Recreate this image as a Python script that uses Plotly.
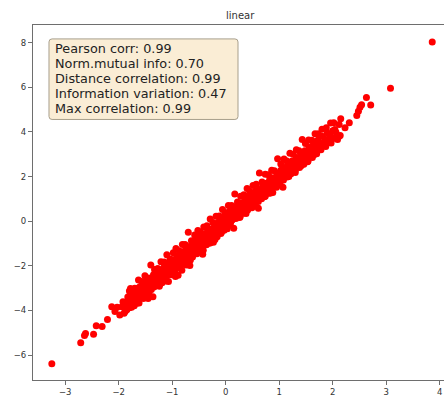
import plotly.graph_objects as go

TITLE = "linear"
STATS = [
    ("Pearson corr", 0.99),
    ("Norm.mutual info", 0.70),
    ("Distance correlation", 0.99),
    ("Information variation", 0.47),
    ("Max correlation", 0.99),
]
X_TICKS = [-3, -2, -1, 0, 1, 2, 3, 4]
Y_TICKS = [-6, -4, -2, 0, 2, 4, 6, 8]

# sparse lower tail
tail_lo_x = [-3.25, -2.71, -2.64, -2.62, -2.47, -2.42, -2.31, -2.21, -2.13, -2.07,
             -2.03, -1.98, -1.94, -1.88, -1.82, -1.76, -1.66, -1.45, -1.41]
tail_lo_y = [-6.39, -5.44, -5.12, -5.03, -5.06, -4.68, -4.72, -4.40, -3.83, -4.05,
             -3.86, -4.20, -3.83, -4.05, -3.54, -3.39, -3.68, -3.46, -2.72]

# dense central band
band_x = [
    -1.92, -1.90, -1.87, -1.85, -1.83, -1.80, -1.78, -1.77, -1.75, -1.73,
    -1.71, -1.69, -1.68, -1.66, -1.64, -1.62, -1.61, -1.59, -1.57, -1.55,
    -1.54, -1.52, -1.50, -1.49, -1.47, -1.45, -1.44, -1.42, -1.40, -1.39,
    -1.37, -1.35, -1.34, -1.32, -1.30, -1.29, -1.27, -1.25, -1.24, -1.22,
    -1.20, -1.19, -1.17, -1.15, -1.14, -1.12, -1.10, -1.09, -1.07, -1.05,
    -1.04, -1.02, -1.00, -0.99, -0.97, -0.95, -0.94, -0.92, -0.90, -0.89,
    -0.87, -0.85, -0.84, -0.82, -0.80, -0.79, -0.77, -0.75, -0.74, -0.72,
    -0.70, -0.69, -0.67, -0.66, -0.64, -0.62, -0.61, -0.59, -0.57, -0.56,
    -0.54, -0.52, -0.51, -0.49, -0.47, -0.46, -0.44, -0.42, -0.41, -0.39,
    -0.37, -0.36, -0.34, -0.32, -0.31, -0.29, -0.27, -0.26, -0.24, -0.23,
    -0.21, -0.19, -0.18, -0.16, -0.14, -0.13, -0.11, -0.09, -0.08, -0.06,
    -0.04, -0.03, -0.01, 0.01, 0.02, 0.04, 0.06, 0.07, 0.09, 0.11,
    0.12, 0.14, 0.16, 0.17, 0.19, 0.21, 0.22, 0.24, 0.26, 0.27,
    0.29, 0.31, 0.32, 0.34, 0.36, 0.37, 0.39, 0.41, 0.42, 0.44,
    0.46, 0.47, 0.49, 0.51, 0.52, 0.54, 0.56, 0.57, 0.59, 0.61,
    0.62, 0.64, 0.66, 0.67, 0.69, 0.71, 0.72, 0.74, 0.76, 0.77,
    0.79, 0.81, 0.82, 0.84, 0.86, 0.88, 0.89, 0.91, 0.93, 0.94,
    0.96, 0.98, 0.99, 1.01, 1.03, 1.05, 1.06, 1.08, 1.10, 1.12,
    1.13, 1.15, 1.17, 1.19, 1.20, 1.22, 1.24, 1.26, 1.28, 1.30,
    1.32, 1.34, 1.36, 1.38, 1.40, 1.42, 1.44, 1.46, 1.48, 1.50,
    1.52, 1.54, 1.56, 1.58, 1.60, 1.62, 1.64, 1.66, 1.68, 1.70,
    1.72, 1.74, 1.76, 1.78, 1.80, 1.83, 1.85, 1.87, 1.90, 1.92,
    1.95, 1.97, 2.00, 2.03, 2.06, 2.09,
]
band_y = [
    -3.61, -4.12, -3.70, -3.95, -3.40, -3.88, -3.52, -3.21, -3.66, -3.30,
    -3.79, -3.15, -3.48, -3.02, -3.57, -3.25, -2.95, -3.38, -3.10, -2.78,
    -3.46, -2.90, -3.15, -2.70, -3.02, -2.62, -3.30, -2.84, -2.55, -3.06,
    -2.71, -2.40, -2.95, -2.58, -2.88, -2.30, -2.66, -2.45, -2.91, -2.18,
    -2.52, -2.76, -2.33, -2.05, -2.60, -2.21, -2.44, -1.95, -2.70, -2.12,
    -1.85, -2.38, -2.02, -1.73, -2.25, -1.90, -2.48, -1.66, -2.10, -1.82,
    -1.52, -2.02, -1.70, -2.20, -1.40, -1.88, -1.58, -1.26, -1.96, -1.45,
    -1.70, -1.18, -1.98, -1.36, -1.05, -1.60, -1.28, -0.98, -1.45, -1.15,
    -0.82, -1.38, -0.96, -1.22, -0.70, -1.08, -0.85, -1.30, -0.58, -0.92,
    -0.66, -1.05, -0.44, -0.80, -0.55, -0.98, -0.36, -0.68, -0.40, -0.94,
    -0.15, -0.52, -0.28, -0.70, -0.05, -0.38, -0.12, -0.55, 0.10, -0.22,
    0.05, -0.41, 0.22, -0.10, 0.35, -0.20, 0.15, 0.45, -0.02, 0.30,
    0.05, 0.52, 0.18, 0.62, 0.12, 0.40, 0.70, 0.28, 0.55, 0.20,
    0.82, 0.45, 0.68, 0.38, 0.95, 0.58, 0.80, 0.50, 1.10, 0.72,
    0.98, 0.62, 1.22, 0.85, 1.08, 0.78, 1.35, 0.95, 1.20, 0.88,
    1.42, 1.05, 1.30, 1.00, 1.58, 1.18, 1.45, 1.12, 1.70, 1.32,
    1.55, 1.25, 1.85, 1.48, 1.72, 1.29, 1.95, 1.62, 1.88, 1.55,
    2.15, 1.78, 2.02, 1.70, 2.28, 1.92, 2.18, 1.85, 2.40, 2.05,
    2.32, 1.98, 2.55, 2.20, 2.48, 2.12, 2.70, 2.35, 2.60, 2.28,
    2.85, 2.48, 2.72, 2.40, 3.02, 2.65, 2.88, 2.55, 3.15, 2.80,
    3.05, 2.70, 3.32, 2.95, 3.20, 2.85, 3.45, 3.10, 3.35, 3.02,
    3.62, 3.28, 3.50, 3.20, 3.80, 3.42, 3.68, 3.35, 3.95, 3.58,
    3.85, 3.50, 4.05, 3.72, 3.98, 3.66,
]

# scattered points along the upper edge of the band
upper_x = [
    -1.80, -1.78, -1.70, -1.63, -1.57, -1.51, -1.46, -1.40, -1.33, -1.27,
    -1.21, -1.15, -1.10, -1.04, -0.98, -0.93, -0.87, -0.81, -0.76, -0.70,
    -0.64, -0.58, -0.52, -0.47, -0.41, -0.35, -0.29, -0.24, -0.18, -0.12,
    -0.06, -0.01, 0.05, 0.11, 0.17, 0.22, 0.28, 0.34, 0.40, 0.45,
    0.51, 0.57, 0.63, 0.68, 0.74, 0.80, 0.86, 0.91, 0.97, 1.03,
    1.09, 1.14, 1.20, 1.26, 1.32, 1.37, 1.43, 1.49, 1.55, 1.61,
    1.67, 1.73, 1.80, 1.88, 1.96, 2.02,
]
upper_y = [
    -3.13, -3.02, -3.00, -2.64, -2.70, -2.44, -2.55, -1.96, -2.16, -2.12,
    -1.82, -1.83, -1.50, -1.69, -1.41, -1.22, -1.32, -1.04, -1.04, -0.50,
    -0.88, -0.62, -0.42, -0.50, -0.26, -0.20, 0.10, -0.06, 0.22, 0.23,
    0.52, 0.38, 0.70, 0.70, 1.22, 0.86, 1.12, 1.18, 1.46, 1.34,
    1.60, 1.66, 2.16, 1.76, 2.10, 2.08, 2.28, 2.26, 2.80, 2.56,
    2.78, 2.70, 3.04, 3.00, 3.20, 3.16, 3.66, 3.48, 3.64, 3.62,
    3.92, 3.92, 4.12, 4.18, 4.40, 4.41,
]

# scattered points along the lower edge of the band
lower_x = [
    -1.85, -1.76, -1.69, -1.62, -1.55, -1.49, -1.43, -1.36, -1.30, -1.24,
    -1.18, -1.12, -1.06, -1.01, -0.95, -0.89, -0.83, -0.78, -0.72, -0.66,
    -0.60, -0.54, -0.49, -0.43, -0.37, -0.31, -0.26, -0.20, -0.14, -0.08,
    -0.03, 0.03, 0.09, 0.15, 0.20, 0.26, 0.32, 0.38, 0.43, 0.49,
    0.55, 0.61, 0.66, 0.72, 0.78, 0.84, 0.89, 0.95, 1.01, 1.07,
    1.12, 1.18, 1.24, 1.30, 1.35, 1.41, 1.47, 1.53, 1.59, 1.65,
    1.71, 1.78, 1.86, 1.94,
]
lower_y = [
    -3.97, -3.86, -3.58, -3.66, -3.34, -3.36, -3.16, -3.38, -2.82, -2.84,
    -2.64, -2.68, -2.32, -2.40, -2.20, -2.42, -1.90, -1.90, -1.70, -1.74,
    -1.42, -1.46, -1.28, -1.48, -0.94, -0.98, -0.80, -0.82, -0.52, -0.50,
    -0.28, -0.34, -0.08, -0.32, 0.20, 0.16, 0.36, 0.34, 0.64, 0.60,
    0.80, 0.58, 1.08, 1.10, 1.28, 1.26, 1.56, 1.52, 1.72, 1.52,
    2.00, 2.00, 2.20, 2.18, 2.48, 2.48, 2.66, 2.66, 2.96, 2.98,
    3.18, 3.26, 3.52, 3.62,
]

# sparse upper tail
tail_hi_x = [2.04, 2.12, 2.14, 2.12, 2.15, 2.23, 2.31, 2.45, 2.48, 2.51,
             2.54, 2.63, 2.71, 3.08, 3.86]
tail_hi_y = [4.11, 3.81, 3.84, 4.33, 4.59, 4.19, 4.41, 4.73, 4.93, 5.10,
             5.22, 5.54, 5.21, 5.95, 8.03]

xs = tail_lo_x + band_x + upper_x + lower_x + tail_hi_x
ys = tail_lo_y + band_y + upper_y + lower_y + tail_hi_y

fig = go.Figure()
fig.add_trace(go.Scatter(
    x=xs, y=ys, mode="markers",
    marker=dict(color="#ff0000", size=7, line=dict(width=0)),
    showlegend=False, hoverinfo="skip",
))

# rounded text box (paper coordinates)
x0, x1 = 0.0389, 0.4988
y0, y1 = 0.7339, 0.9608
rx, ry = 0.0075, 0.0085
box_path = (
    f"M {x0+rx},{y0} L {x1-rx},{y0} Q {x1},{y0} {x1},{y0+ry} "
    f"L {x1},{y1-ry} Q {x1},{y1} {x1-rx},{y1} "
    f"L {x0+rx},{y1} Q {x0},{y1} {x0},{y1-ry} "
    f"L {x0},{y0+ry} Q {x0},{y0} {x0+rx},{y0} Z"
)
fig.add_shape(type="path", path=box_path, xref="paper", yref="paper",
              fillcolor="rgba(245,222,179,0.55)",
              line=dict(color="#a89f8c", width=1), layer="above")

# one annotation per statistic line, 15 px apart
for i, (name, val) in enumerate(STATS):
    fig.add_annotation(
        text=f"{name}: {val:.2f}", xref="paper", yref="paper",
        x=0.0487, y=1 - (49 + 15 * i - 25) / 357,
        xanchor="left", yanchor="middle", align="left",
        showarrow=False,
        font=dict(family="DejaVu Sans", size=12.8, color="#222222"),
    )

fig.add_annotation(
    text=TITLE, xref="paper", yref="paper",
    x=0.506, y=1.028, xanchor="center", yanchor="middle",
    showarrow=False,
    font=dict(family="DejaVu Sans", size=10, color="#333333"),
)

axis_common = dict(
    showgrid=False, zeroline=False, showline=True, linecolor="#6e6e6e",
    linewidth=1.2, ticks="outside", ticklen=4, tickcolor="#6e6e6e",
    tickwidth=1, tickfont=dict(family="DejaVu Sans", size=8.5, color="#333333"),
)

fig.update_layout(
    width=444, height=397,
    margin=dict(l=33, r=0, t=25, b=15),
    paper_bgcolor="white", plot_bgcolor="white",
    xaxis=dict(range=[-3.602, 4.080], tickvals=X_TICKS, mirror=True, **axis_common),
    yaxis=dict(range=[-7.114, 8.788], tickvals=Y_TICKS, mirror=False, **axis_common),
)

fig.write_html("out.html")
